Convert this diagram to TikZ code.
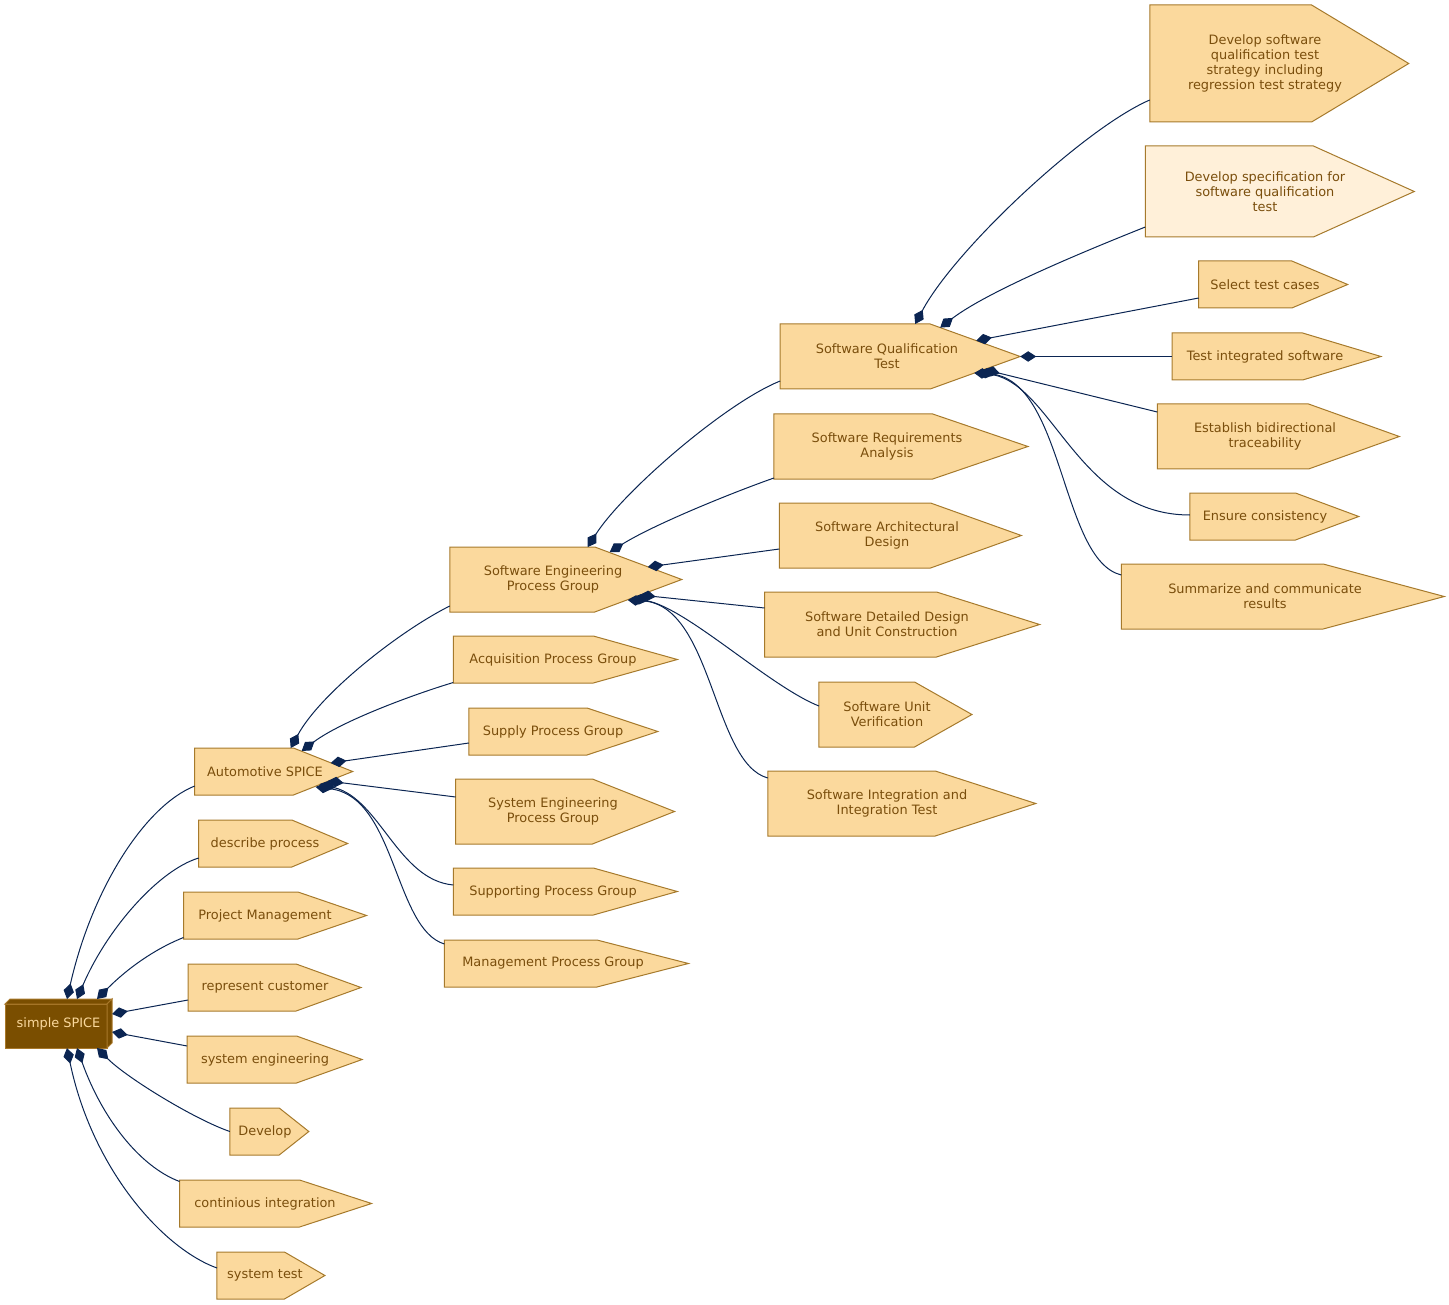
\documentclass[tikz,border=0pt]{standalone}
\usepackage{fontspec}
\setmainfont{DejaVu Sans}
\usetikzlibrary{arrows.meta,calc,backgrounds}

\definecolor{cdsfill}{HTML}{FBD99D}
\definecolor{cdslight}{HTML}{FFF0D9}
\definecolor{cdsline}{HTML}{A67A2C}
\definecolor{cdstext}{HTML}{7A4E0C}
\definecolor{rootfill}{HTML}{7A4E00}
\definecolor{rootline}{HTML}{A8782A}
\definecolor{linkblue}{HTML}{0B2552}

\tikzset{
  spice/.style={font=\fontsize{12.9}{15}\selectfont, align=center, inner sep=0pt, outer sep=0pt},
  cds/.style={spice, text=cdstext, minimum width=#1},
  oneline/.style={minimum height=47pt},
  twoline/.style={minimum height=65pt},
  threeline/.style={minimum height=91pt},
  fourline/.style={minimum height=117pt},
  rootbox/.style={spice, text=cdsfill, minimum width=107pt, minimum height=49pt},
  link/.style={draw=linkblue, line width=1pt, {Diamond[length=16pt,width=10.5pt]}-},
}

\begin{document}
\begin{tikzpicture}[x=1pt,y=-1pt]
  \useasboundingbox (0,0) rectangle (1449,1305);

  % root
  \node[rootbox] (root) at (58.5,1023.5) {simple SPICE};

  % first column
  \node[cds=140.6pt, oneline] (auto) at (265,771.5) {Automotive SPICE};
  \node[cds=132.6pt, oneline] (describe) at (265,843.5) {describe process};
  \node[cds=162.9pt, oneline] (projmgmt) at (265,915.5) {Project Management};
  \node[cds=154pt, oneline] (customer) at (265,987.5) {represent customer};
  \node[cds=155.8pt, oneline] (syseng) at (265,1059.5) {system engineering};
  \node[cds=70.3pt, oneline] (develop) at (265,1131.5) {Develop};
  \node[cds=170.9pt, oneline] (contint) at (265,1203.5) {continious integration};
  \node[cds=96.1pt, oneline] (systest) at (265,1275.5) {system test};

  % process groups
  \node[cds=206.5pt, twoline] (sepg) at (553,579.5) {Software Engineering\\Process Group};
  \node[cds=199.4pt, oneline] (acq) at (553,659.5) {Acquisition Process Group};
  \node[cds=168.2pt, oneline] (supply) at (553,731.5) {Supply Process Group};
  \node[cds=194.9pt, twoline] (sysepg) at (553,811.5) {System Engineering\\Process Group};
  \node[cds=199.4pt, oneline] (supp) at (553,891.5) {Supporting Process Group};
  \node[cds=217.2pt, oneline] (mgmt) at (553,963.5) {Management Process Group};

  % software processes
  \node[cds=213.6pt, twoline] (sqt) at (887,356.5) {Software Qualification\\Test};
  \node[cds=226.1pt, twoline] (sra) at (887,446.5) {Software Requirements\\Analysis};
  \node[cds=215.4pt, twoline] (sad) at (887,535.5) {Software Architectural\\Design};
  \node[cds=244.8pt, twoline] (sdd) at (887,624.5) {Software Detailed Design\\and Unit Construction};
  \node[cds=136.2pt, twoline] (suv) at (887,714.5) {Software Unit\\Verification};
  \node[cds=238.5pt, twoline] (sit) at (887,803.5) {Software Integration and\\Integration Test};

  % practices
  \node[cds=230.5pt, fourline] (devsw) at (1265,63.5) {Develop software\\qualification test\\strategy including\\regression test strategy};
  \node[cds=239.4pt, threeline] (devspec) at (1265,191.5) {Develop specification for\\software qualification\\test};
  \node[cds=132.6pt, oneline] (select) at (1265,284.5) {Select test cases};
  \node[cds=186pt, oneline] (testint) at (1265,356.5) {Test integrated software};
  \node[cds=215.4pt, twoline] (estab) at (1265,436.5) {Establish bidirectional\\traceability};
  \node[cds=150.4pt, oneline] (ensure) at (1265,516.5) {Ensure consistency};
  \node[cds=287.5pt, twoline] (summ) at (1265,596.5) {Summarize and communicate\\results};

  \begin{scope}[on background layer]
    % box3d of the root
    \filldraw[fill=rootfill, draw=rootline, line width=1pt]
      ([shift={(0,5)}]root.north west) rectangle ([shift={(-5,0)}]root.south east);
    \filldraw[fill=rootfill, draw=rootline, line width=1pt]
      ([shift={(0,5)}]root.north west) -- ([shift={(5,0)}]root.north west)
      -- (root.north east) -- ([shift={(-5,5)}]root.north east) -- cycle;
    \filldraw[fill=rootfill, draw=rootline, line width=1pt]
      ([shift={(-5,5)}]root.north east) -- (root.north east)
      -- ([shift={(0,-5)}]root.south east) -- ([shift={(-5,0)}]root.south east) -- cycle;
    % cds outlines
    \foreach \nd/\fc in {auto/cdsfill, describe/cdsfill, projmgmt/cdsfill, customer/cdsfill,
        syseng/cdsfill, develop/cdsfill, contint/cdsfill, systest/cdsfill,
        sepg/cdsfill, acq/cdsfill, supply/cdsfill, sysepg/cdsfill, supp/cdsfill, mgmt/cdsfill,
        sqt/cdsfill, sra/cdsfill, sad/cdsfill, sdd/cdsfill, suv/cdsfill, sit/cdsfill,
        devsw/cdsfill, devspec/cdslight, select/cdsfill, testint/cdsfill, estab/cdsfill,
        ensure/cdsfill, summ/cdsfill}
      \filldraw[fill=\fc, draw=cdsline, line width=1pt]
        (\nd.north west) -- ($(\nd.north west)!0.7022!(\nd.north east)$)
        -- ($(\nd.west)!1.1236!(\nd.east)$)
        -- ($(\nd.south west)!0.7022!(\nd.south east)$)
        -- (\nd.south west) -- cycle;
  \end{scope}

  % root links
  \draw[link] ([shift={(62,0)}]root.north west) .. controls +(25,-110) and +(-50,20) .. ([shift={(0,14.5)}]auto.west);
  \draw[link] ([shift={(72,0)}]root.north west) .. controls +(30,-70) and +(-40,12) .. ([shift={(0,14.5)}]describe.west);
  \draw[link] ([shift={(92,0)}]root.north west) .. controls +(30,-30) and +(-30,12) .. ([shift={(0,22)}]projmgmt.west);
  \draw[link] ([shift={(107,15)}]root.north west) -- ([shift={(0,12.5)}]customer.west);
  \draw[link] ([shift={(107,33)}]root.north west) -- ([shift={(0,-13.5)}]syseng.west);
  \draw[link] ([shift={(92,49)}]root.north west) .. controls +(30,30) and +(-35,-12) .. (develop.west);
  \draw[link] ([shift={(72,49)}]root.north west) .. controls +(25,70) and +(-40,-15) .. ([shift={(0,-22)}]contint.west);
  \draw[link] ([shift={(62,49)}]root.north west) .. controls +(25,120) and +(-55,-20) .. ([shift={(0,-7.5)}]systest.west);

  % automotive spice links
  \draw[link] ([shift={(96,0)}]auto.north west) .. controls +(30,-55) and +(-50,25) .. ([shift={(0,26.5)}]sepg.west);
  \draw[link] ([shift={(107,3)}]auto.north west) .. controls +(40,-30) and +(-40,12) .. ([shift={(0,23)}]acq.west);
  \draw[link] ([shift={(136,15)}]auto.north west) -- ([shift={(0,11.5)}]supply.west);
  \draw[link] ([shift={(133,33)}]auto.north west) -- ([shift={(0,-14.5)}]sysepg.west);
  \draw[link] ([shift={(125,36)}]auto.north west) .. controls +(60,15) and +(-55,-5) .. ([shift={(0,-6.5)}]supp.west);
  \draw[link] ([shift={(121,39)}]auto.north west) .. controls +(80,10) and +(-50,-15) .. ([shift={(0,-19.5)}]mgmt.west);

  % engineering group links
  \draw[link] ([shift={(138,0)}]sepg.north west) .. controls +(35,-55) and +(-55,22) .. ([shift={(0,24.5)}]sqt.west);
  \draw[link] ([shift={(160,5)}]sepg.north west) .. controls +(45,-28) and +(-40,14) .. ([shift={(0,31.5)}]sra.west);
  \draw[link] ([shift={(198,20)}]sepg.north west) -- ([shift={(0,13.5)}]sad.west);
  \draw[link] ([shift={(190,48)}]sepg.north west) -- ([shift={(0,-16.5)}]sdd.west);
  \draw[link] ([shift={(182,51)}]sepg.north west) .. controls +(55,10) and +(-50,-20) .. ([shift={(0,-8.5)}]suv.west);
  \draw[link] ([shift={(178,53)}]sepg.north west) .. controls +(85,5) and +(-55,-15) .. ([shift={(0,-25.5)}]sit.west);

  % qualification test links
  \draw[link] ([shift={(135,0)}]sqt.north west) .. controls +(40,-75) and +(-65,28) .. ([shift={(0,36.5)}]devsw.west);
  \draw[link] ([shift={(160,3.6)}]sqt.north west) .. controls +(50,-38) and +(-50,20) .. ([shift={(0,35.5)}]devspec.west);
  \draw[link] ([shift={(196,16.6)}]sqt.north west) -- ([shift={(0,13.5)}]select.west);
  \draw[link] ($(sqt.west)!1.1236!(sqt.east)$) -- (testint.west);
  \draw[link] ([shift={(204,45.5)}]sqt.north west) -- ([shift={(0,-24.5)}]estab.west);
  \draw[link] ([shift={(198,47.7)}]sqt.north west) .. controls +(75,15) and +(-110,0) .. ([shift={(0,-1.5)}]ensure.west);
  \draw[link] ([shift={(194,49)}]sqt.north west) .. controls +(90,5) and +(-61,-15) .. ([shift={(0,-21.5)}]summ.west);
\end{tikzpicture}
\end{document}
